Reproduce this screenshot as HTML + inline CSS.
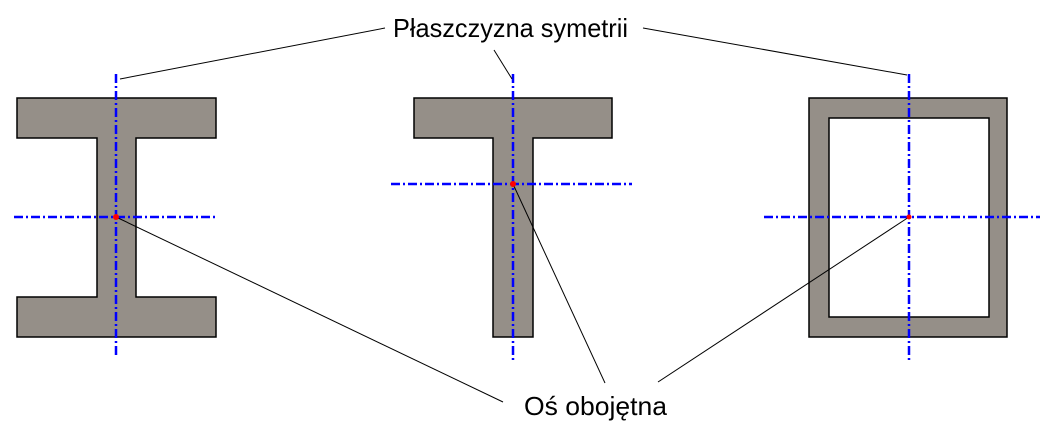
<!DOCTYPE html>
<html><head><style>html,body{margin:0;padding:0;background:#fff}svg{display:block}</style></head>
<body>
<svg width="1048" height="436" viewBox="0 0 1048 436" xmlns="http://www.w3.org/2000/svg">
<g fill="#958f88" stroke="#000" stroke-width="1.5">
<path d="M17 98H216V138H136V297H216V337H17V297H97V138H17Z"/>
<path d="M414 98H612V138H533V337H493V138H414Z"/>
<path fill-rule="evenodd" d="M809 98H1007V337H809Z M829 118V317H989V118Z"/>
</g>
<g stroke="#0000ff" stroke-width="2.5" stroke-dasharray="9 3 2 3" fill="none">
<line x1="116" y1="74" x2="116" y2="358"/>
<line x1="14" y1="217" x2="216" y2="217"/>
<line x1="513" y1="74" x2="513" y2="362"/>
<line x1="391" y1="184" x2="632" y2="184"/>
<line x1="909" y1="74" x2="909" y2="362"/>
<line x1="764" y1="217" x2="1040" y2="217"/>
</g>
<g stroke="#000" stroke-width="1" fill="none">
<line x1="385" y1="28" x2="120" y2="79"/>
<line x1="494" y1="50" x2="512" y2="79"/>
<line x1="643" y1="28" x2="907" y2="75"/>
<line x1="116" y1="217" x2="503" y2="402"/>
<line x1="605" y1="383" x2="513" y2="184"/>
<line x1="658" y1="382" x2="909" y2="217"/>
</g>
<g fill="#ff0000"><circle cx="116" cy="217" r="3"/><circle cx="513" cy="184" r="3"/><circle cx="909" cy="217" r="2.5"/></g>
<g font-family="'Liberation Sans', sans-serif" font-size="26" fill="#000">
<text x="393" y="37" textLength="235" lengthAdjust="spacingAndGlyphs">Płaszczyzna symetrii</text>
<text x="524" y="415" textLength="143" lengthAdjust="spacingAndGlyphs">Oś obojętna</text>
</g>
</svg>
</body></html>
